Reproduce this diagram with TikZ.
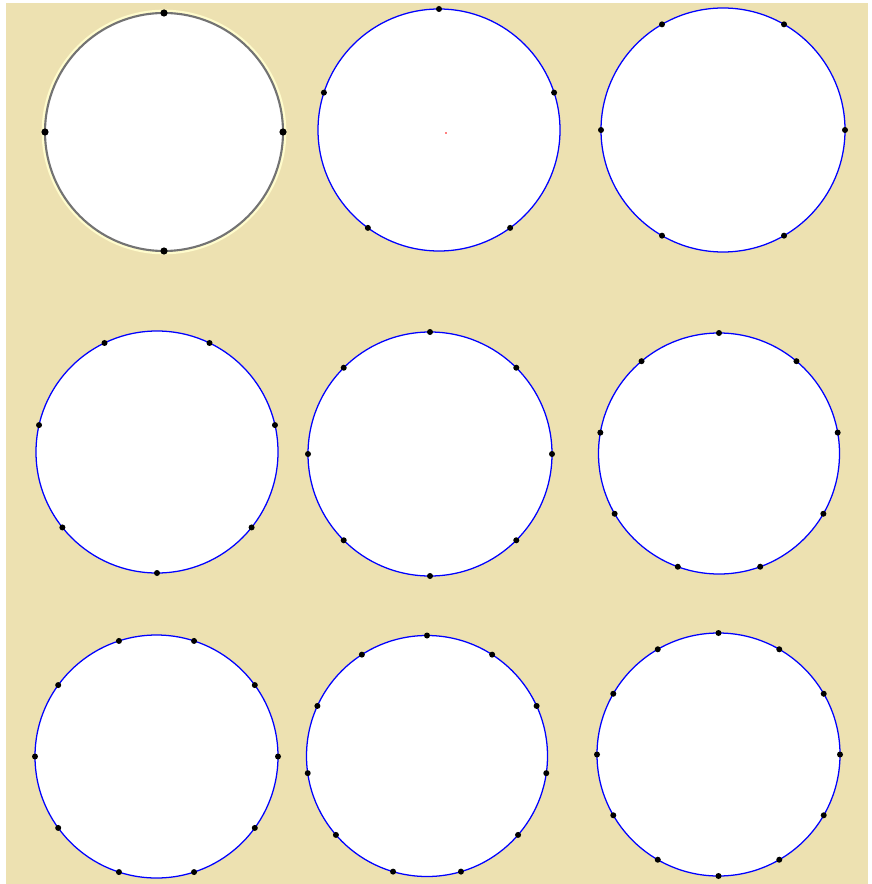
\documentclass[tikz,border=0pt]{standalone}
\usetikzlibrary{backgrounds}
\definecolor{sandbg}{RGB}{237,225,177}
\tikzset{every picture/.style={line width=0.75pt}}

\begin{document}
\begin{tikzpicture}[x=0.25mm, y=0.25mm]
    % 画布与背景
    \useasboundingbox (0,0) rectangle (871,-884);
    \fill[sandbg] (6,-3) rectangle (868,-884);
    
    % 第一个圆：灰色边，四个点
    \fill[white] (164,-132) circle (119);
    \draw[line width=2.6pt, yellow!20!white] (164,-132) circle (120.5);
    \draw[line width=1.5pt, black!55] (164,-132) circle (119);
    \foreach \k in {0,...,3}
        \fill[black] (164,-132) ++(90*\k:119) circle (3.6);
    
    % 其余八个圆：蓝边，n 个等分点
    \foreach \cx/\cy/\r/\n/\a in {439/130/121/5/90, 723/130/122/6/0,
        157/452/121/7/270, 430/454/122/8/90, 719/453.5/120.5/9/90,
        156.5/756.5/121.5/10/0, 427/756/120.5/11/90, 718.5/754.5/121.5/12/90}
    {
        \fill[white] (\cx,-\cy) circle (\r);
        \draw[blue, line width=0.9pt] (\cx,-\cy) circle (\r);
        \foreach \k in {1,...,\n}
            \fill[black] (\cx,-\cy) ++({\a+360*\k/\n}:\r) circle (3);
    }
    
    % 第二个圆的圆心
    \fill[red] (446,-133) circle (0.8);
\end{tikzpicture}
\end{document}
